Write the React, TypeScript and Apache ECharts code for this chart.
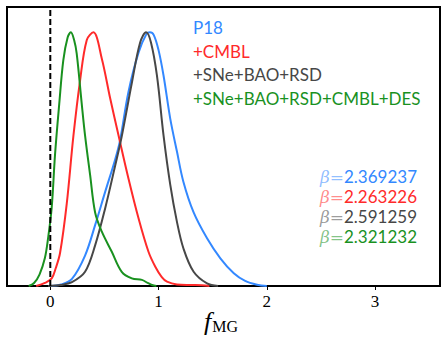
import React, { useEffect, useRef } from "react";
import * as echarts from "echarts";

const xTicks = [0, 1, 2, 3];
const seriesNames = ["P18", "+CMBL", "+SNe+BAO+RSD", "+SNe+BAO+RSD+CMBL+DES"];
const seriesColors = ["#3388ff", "#ff2a2a", "#474747", "#19911f"];
const betaValues = ["2.369237", "2.263226", "2.591259", "2.321232"];

const p18: [number, number][] = [
  [0, 0], [0.1, 0.006], [0.2, 0.028], [0.321, 0.12], [0.414, 0.24], [0.506, 0.37],
  [0.6, 0.5], [0.645, 0.575], [0.722, 0.765], [0.815, 0.92], [0.89, 0.995], [0.92, 1.0],
  [0.955, 0.99], [1.0, 0.93], [1.046, 0.83], [1.108, 0.66], [1.17, 0.53], [1.23, 0.41],
  [1.324, 0.29], [1.448, 0.188], [1.571, 0.109], [1.695, 0.05], [1.8, 0.02], [1.91, 0.005], [2.0, 0],
];
const cmbl: [number, number][] = [
  [-0.13, 0], [-0.05, 0.012], [0.013, 0.03], [0.05, 0.07], [0.09, 0.13], [0.152, 0.325],
  [0.213, 0.59], [0.275, 0.81], [0.337, 0.97], [0.398, 1.0], [0.476, 0.896], [0.553, 0.74],
  [0.63, 0.594], [0.722, 0.424], [0.815, 0.267], [0.907, 0.135], [0.97, 0.076], [1.03, 0.035],
  [1.078, 0.017], [1.17, 0.006], [1.3, 0.004], [1.4, 0.003], [1.47, 0],
];
const sneBaoRsd: [number, number][] = [
  [-0.02, 0], [0.1, 0.004], [0.2, 0.015], [0.321, 0.056], [0.414, 0.16], [0.506, 0.305],
  [0.6, 0.476], [0.66, 0.59], [0.753, 0.8], [0.83, 0.96], [0.885, 1.0], [0.93, 0.96],
  [0.985, 0.83], [1.046, 0.594], [1.108, 0.4], [1.17, 0.253], [1.23, 0.148], [1.324, 0.056],
  [1.448, 0.01], [1.55, 0],
];
const allData: [number, number][] = [
  [-0.2, 0], [-0.15, 0.012], [-0.1, 0.045], [-0.05, 0.11], [-0.02, 0.19], [0.013, 0.31],
  [0.044, 0.52], [0.083, 0.72], [0.12, 0.89], [0.16, 0.98], [0.19, 1.0], [0.22, 0.97],
  [0.244, 0.916], [0.29, 0.72], [0.321, 0.594], [0.368, 0.437], [0.414, 0.29], [0.476, 0.214],
  [0.568, 0.135], [0.66, 0.056], [0.753, 0.03], [0.846, 0.024], [0.9, 0.012], [0.94, 0.004], [0.98, 0],
];
const curves = [p18, cmbl, sneBaoRsd, allData];

export default function App() {
  const ref = useRef<HTMLDivElement>(null);
  useEffect(() => {
    if (!ref.current) return;
    const chart = echarts.init(ref.current, undefined, { renderer: "svg" });
    const lineSeries: any[] = curves.map((d, i) => ({
      type: "line",
      name: seriesNames[i],
      data: d,
      smooth: 0.35,
      showSymbol: false,
      lineStyle: { color: seriesColors[i], width: 2 },
      z: 3,
    }));
    lineSeries.push({
      type: "line",
      data: [[0, 0], [0, 1.1]],
      showSymbol: false,
      lineStyle: { color: "#000", width: 2, type: [6, 3] },
      z: 4,
    });
    const legend = seriesNames.map((n, i) => ({
      type: "text",
      left: 193,
      top: 19 + i * 23.5,
      style: { text: n, fill: seriesColors[i], font: "17px Lato" },
    }));
    const betas = betaValues.map((v, i) => ({
      type: "text",
      right: 30,
      top: 168 + i * 20,
      style: {
        text: `{b|β=}{v|${v}}`,
        rich: {
          b: { fill: seriesColors[i], opacity: 0.55, font: "italic 17px 'DejaVu Serif'" },
          v: { fill: seriesColors[i], font: "17px Lato" },
        },
      },
    }));
    chart.setOption({
      animation: false,
      grid: { left: 7, right: 7, top: 7, bottom: 58, show: true, borderColor: "#000", borderWidth: 2, backgroundColor: "transparent" },
      xAxis: {
        type: "value",
        min: -0.4,
        max: 3.6,
        axisLine: { show: false },
        splitLine: { show: false },
        axisTick: { show: true, customValues: xTicks, length: 4, lineStyle: { color: "#000", width: 1 } },
        axisLabel: { customValues: xTicks, color: "#000", fontFamily: "Liberation Serif", fontSize: 17, margin: 7 },
      },
      yAxis: {
        type: "value",
        min: 0,
        max: 1.1,
        axisLine: { show: false },
        axisTick: { show: false },
        axisLabel: { show: false },
        splitLine: { show: false },
      },
      graphic: [
        ...legend,
        ...betas,
        {
          type: "text",
          left: 204,
          top: 308,
          style: {
            text: "{f|f}{s|MG}",
            rich: {
              f: { fill: "#000", font: "italic 26px 'Liberation Serif'" },
              s: { fill: "#000", font: "16px 'Liberation Serif'", verticalAlign: "bottom", padding: [10, 0, 0, 1] },
            },
          },
        },
      ],
      series: lineSeries,
    });
    return () => chart.dispose();
  }, []);
  return <div ref={ref} style={{ width: 447, height: 344, position: "absolute", left: 0, top: 0 }} />;
}
